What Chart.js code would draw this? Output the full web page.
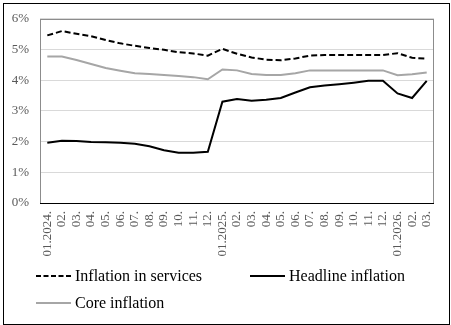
<!DOCTYPE html>
<html>
<head>
<meta charset="utf-8">
<script src="https://cdn.jsdelivr.net/npm/chart.js@4.4.1/dist/chart.umd.min.js"></script>
<style>
  html, body { margin: 0; padding: 0; background: #fff; }
  #wrap { position: relative; width: 451px; height: 325px; overflow: hidden; }
  #frame { position: absolute; left: 3px; top: 3px; width: 447px; height: 322px; border: 1px solid #000; box-sizing: border-box; pointer-events: none; }
  canvas { position: absolute; left: 0; top: 0; }
  .lg { position: absolute; font-family: 'Liberation Serif', 'Times New Roman', serif; font-size: 16px; color: #000; white-space: nowrap; line-height: 16px; }
  .lg svg { position: absolute; left: 0; top: 6px; }
  .lg span { position: absolute; left: 39px; top: 0; }
</style>
</head>
<body>
<div id="wrap">
  <canvas id="c" width="451" height="325"></canvas>
  <div id="frame"></div>
  <div class="lg" id="lg0" style="left:36px; top:268px;"></div>
  <div class="lg" id="lg1" style="left:250px; top:268px;"></div>
  <div class="lg" id="lg2" style="left:36px; top:295px;"></div>
</div>
<script>
const labels = ["01.2024.","02.","03.","04.","05.","06.","07.","08.","09.","10.","11.","12.",
                "01.2025.","02.","03.","04.","05.","06.","07.","08.","09.","10.","11.","12.",
                "01.2026.","02.","03."];
const seriesNames = ["Inflation in services", "Headline inflation", "Core inflation"];
const services = [5.46,5.60,5.51,5.43,5.31,5.20,5.12,5.05,4.99,4.91,4.87,4.80,5.02,4.86,4.74,4.67,4.65,4.71,4.80,4.82,4.82,4.82,4.82,4.82,4.88,4.73,4.70];
const headline = [1.96,2.03,2.02,1.99,1.98,1.96,1.93,1.85,1.72,1.64,1.64,1.67,3.30,3.39,3.33,3.36,3.42,3.60,3.77,3.83,3.87,3.92,3.98,3.98,3.57,3.42,3.98];
const core = [4.77,4.77,4.66,4.53,4.40,4.31,4.23,4.20,4.17,4.14,4.10,4.03,4.35,4.32,4.20,4.17,4.17,4.23,4.32,4.32,4.32,4.32,4.32,4.32,4.16,4.19,4.25];

const FONT = "'Liberation Serif', 'Times New Roman', serif";
const styles = [
  {color: '#000000', dash: [6, 3]},
  {color: '#000000', dash: []},
  {color: '#a6a6a6', dash: []}
];

// HTML legend
seriesNames.forEach((name, i) => {
  const el = document.getElementById('lg' + i);
  const st = styles[i];
  el.innerHTML = '<svg width="36" height="4"><line x1="0" y1="2" x2="35" y2="2" stroke="' + st.color +
    '" stroke-width="2"' + (st.dash.length ? ' stroke-dasharray="5,2.5"' : '') + '/></svg><span></span>';
  el.querySelector('span').textContent = name;
});

const plotFrame = {
  id: 'plotFrame',
  beforeDatasetsDraw(chart) {
    const a = chart.chartArea, ctx = chart.ctx;
    ctx.save();
    ctx.strokeStyle = '#8c8c8c';
    ctx.lineWidth = 1;
    ctx.strokeRect(Math.round(a.left) + 0.5, Math.round(a.top) + 0.5, Math.round(a.right - a.left) - 1, Math.round(a.bottom - a.top));
    ctx.strokeStyle = '#000';
    ctx.beginPath();
    ctx.moveTo(Math.round(a.left), Math.round(a.bottom) + 0.5);
    ctx.lineTo(Math.round(a.right), Math.round(a.bottom) + 0.5);
    ctx.stroke();
    ctx.restore();
  }
};

new Chart(document.getElementById('c'), {
  type: 'line',
  data: {
    labels: labels,
    datasets: [
      {label: seriesNames[2], data: core, borderColor: styles[2].color, borderWidth: 2, pointRadius: 0, tension: 0, fill: false},
      {label: seriesNames[1], data: headline, borderColor: styles[1].color, borderWidth: 2, pointRadius: 0, tension: 0, fill: false},
      {label: seriesNames[0], data: services, borderColor: styles[0].color, borderWidth: 2, borderDash: styles[0].dash, pointRadius: 0, tension: 0, fill: false}
    ]
  },
  options: {
    responsive: false,
    animation: false,
    devicePixelRatio: 1,
    layout: {padding: {top: 15, right: 17, left: 0, bottom: 0}},
    plugins: {legend: {display: false}, tooltip: {enabled: false}},
    scales: {
      x: {
        offset: true,
        grid: {display: false, drawTicks: false},
        border: {display: false},
        ticks: {
          autoSkip: false, minRotation: 90, maxRotation: 90, padding: 8,
          color: '#595959', font: {family: FONT, size: 13}
        },
        afterFit(s) { s.height = 122; }
      },
      y: {
        min: 0, max: 6,
        grid: {color: '#d9d9d9', drawTicks: false, lineWidth: 1},
        border: {display: false},
        ticks: {
          stepSize: 1, padding: 11, color: '#595959', font: {family: FONT, size: 13},
          callback: v => v + '%'
        },
        afterFit(s) { s.width = 40; }
      }
    }
  },
  plugins: [plotFrame]
});
</script>
</body>
</html>
